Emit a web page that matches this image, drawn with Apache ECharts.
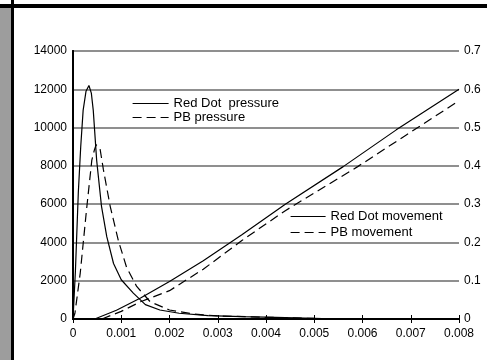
<!DOCTYPE html>
<html>
<head>
<meta charset="utf-8">
<script src="https://cdn.jsdelivr.net/npm/echarts@6/dist/echarts.min.js"></script>
<style>
  html, body { margin: 0; padding: 0; background: #fff; }
  #chart { width: 487px; height: 360px; }
</style>
</head>
<body>
<div id="chart"></div>
<script>
// time axis (s)
const xTicks = ['0', '0.001', '0.002', '0.003', '0.004', '0.005', '0.006', '0.007', '0.008']

// pressure (left axis)
const rdPressureT = [0, 0.00005, 0.00011, 0.00016, 0.00021, 0.00027, 0.00033, 0.00038, 0.00042, 0.00049, 0.00059, 0.0007, 0.00084, 0.001, 0.00125, 0.0015, 0.0018, 0.0022, 0.0028, 0.0035, 0.0042, 0.005, 0.0055]
const rdPressure = [0, 2500, 6600, 9000, 10900, 11900, 12200, 11800, 10900, 8300, 5900, 4300, 2900, 2050, 1350, 750, 470, 300, 180, 120, 80, 40, 0]
const pbPressureT = [0, 0.00004, 0.00015, 0.00028, 0.00039, 0.00044, 0.00048, 0.00056, 0.00063, 0.00077, 0.00094, 0.00111, 0.00132, 0.0016, 0.002, 0.0025, 0.003, 0.004, 0.005]
const pbPressure = [0, 300, 2400, 5700, 8300, 8800, 9100, 8900, 7800, 5900, 4100, 2700, 1700, 900, 470, 260, 160, 90, 30]

// movement (right axis)
const rdMoveT = [0.00045, 0.0009, 0.0014, 0.002, 0.0027, 0.0035, 0.0044, 0.0056, 0.0067, 0.008]
const rdMove = [0, 0.023, 0.055, 0.098, 0.152, 0.22, 0.3, 0.398, 0.494, 0.6]
const pbMoveT = [0.0006, 0.001, 0.0014, 0.002, 0.0027, 0.0035, 0.0044, 0.0059, 0.0069, 0.008]
const pbMove = [0, 0.02, 0.045, 0.074, 0.13, 0.205, 0.283, 0.398, 0.48, 0.57]

const pairs = (xs, ys) => xs.map((x, i) => [x, ys[i]])

const chart = echarts.init(document.getElementById('chart'))
const font = 'Liberation Sans, Arial, sans-serif'
const dash = [9, 5]

const legendBase = {
  orient: 'vertical',
  padding: 0,
  itemHeight: 14,
  itemStyle: { opacity: 0 },
  lineStyle: { width: 1.2 },
  textStyle: { fontSize: 13, color: '#000', fontFamily: font }
}

const option = {
  animation: false,
  backgroundColor: '#fff',
  textStyle: { fontFamily: font },
  grid: { left: 73, right: 28, top: 51, bottom: 41 },
  graphic: [
    { type: 'rect', shape: { x: 0, y: 8, width: 11, height: 352 }, style: { fill: '#9d9d9d' }, silent: true },
    { type: 'rect', shape: { x: 0, y: 4, width: 487, height: 4 }, style: { fill: '#000' }, silent: true },
    { type: 'rect', shape: { x: 11, y: 0, width: 3, height: 360 }, style: { fill: '#000' }, silent: true }
  ],
  legend: [
    Object.assign({}, legendBase, {
      data: ['Red Dot  pressure', 'PB pressure'],
      left: 132, top: 97, itemWidth: 36, itemGap: 1
    }),
    Object.assign({}, legendBase, {
      data: ['Red Dot movement', 'PB movement'],
      left: 290, top: 210, itemWidth: 35, itemGap: 3
    })
  ],
  xAxis: [
    {
      type: 'value', min: 0, max: 0.008, interval: 0.001,
      axisLine: { lineStyle: { color: '#000', width: 2 } },
      axisTick: { inside: true, length: 4, lineStyle: { color: '#000' } },
      splitLine: { show: false },
      axisLabel: {
        color: '#000', fontSize: 12, margin: 9,
        formatter: (v) => xTicks[Math.round(v * 1000)]
      }
    },
    {
      type: 'value', position: 'top', min: 0, max: 0.008, interval: 0.001,
      axisLine: { lineStyle: { color: '#000', width: 2 } },
      axisTick: { inside: true, length: 4, lineStyle: { color: '#000' } },
      axisLabel: { show: false },
      splitLine: { show: false }
    }
  ],
  yAxis: [
    {
      type: 'value', min: 0, max: 14000, interval: 2000,
      axisLine: { show: true, lineStyle: { color: '#000', width: 2 } },
      axisTick: { show: false },
      axisLabel: { color: '#000', fontSize: 12, margin: 6, formatter: (v) => String(v) },
      splitLine: { lineStyle: { color: '#8f8f8f', width: 2 } }
    },
    {
      type: 'value', min: 0, max: 0.7, interval: 0.1,
      axisLine: { show: true, lineStyle: { color: '#000', width: 2 } },
      axisTick: { show: false },
      axisLabel: { color: '#000', fontSize: 12, margin: 5, formatter: (v) => v === 0 ? '0' : v.toFixed(1) },
      splitLine: { show: false }
    }
  ],
  series: [
    {
      name: 'Red Dot  pressure', type: 'line', yAxisIndex: 0, showSymbol: false, symbol: 'none',
      data: pairs(rdPressureT, rdPressure),
      lineStyle: { color: '#000', width: 1.2 }, itemStyle: { color: '#000' }
    },
    {
      name: 'PB pressure', type: 'line', yAxisIndex: 0, showSymbol: false, symbol: 'none',
      data: pairs(pbPressureT, pbPressure),
      lineStyle: { color: '#000', width: 1.2, type: dash }, itemStyle: { color: '#000' }
    },
    {
      name: 'Red Dot movement', type: 'line', yAxisIndex: 1, showSymbol: false, symbol: 'none',
      data: pairs(rdMoveT, rdMove),
      lineStyle: { color: '#000', width: 1.2 }, itemStyle: { color: '#000' }
    },
    {
      name: 'PB movement', type: 'line', yAxisIndex: 1, showSymbol: false, symbol: 'none',
      data: pairs(pbMoveT, pbMove),
      lineStyle: { color: '#000', width: 1.2, type: dash }, itemStyle: { color: '#000' }
    }
  ]
}

chart.setOption(option)
</script>
</body>
</html>
